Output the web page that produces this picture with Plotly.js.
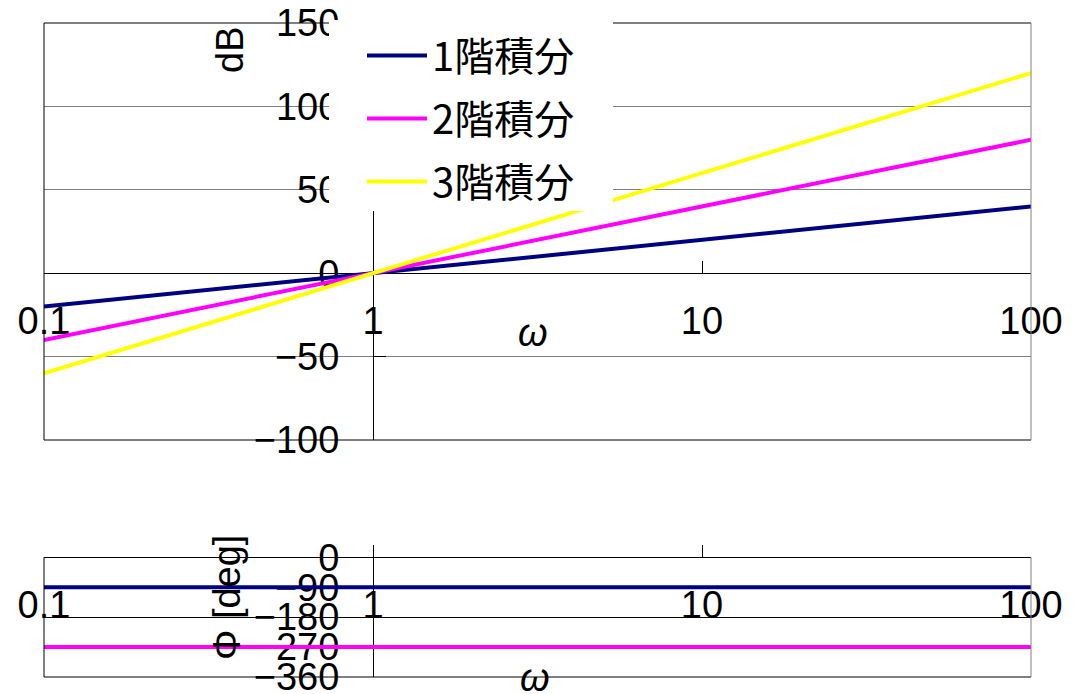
<!DOCTYPE html>
<html>
<head>
<meta charset="utf-8">
<script src="https://cdn.plot.ly/plotly-3.0.1.min.js"></script>
<style>
html, body { margin: 0; padding: 0; background: #fff; }
#chart { width: 1086px; height: 694px; }
</style>
</head>
<body>
<div id="chart"></div>
<script>
// Data
const omega = [0.1, 1, 10, 100];
const gain1 = [-20, 0, 20, 40];
const gain2 = [-40, 0, 40, 80];
const gain3 = [-60, 0, 60, 120];
const phase1 = [-90, -90, -90, -90];
const phase2 = [-270, -270, -270, -270];
const seriesNames = ['1階積分', '2階積分', '3階積分'];
const seriesColors = ['#000080', '#FF00FF', '#FFFF00'];
const xTickVals = [0.1, 1, 10, 100];
const xTickText = ['0.1', '1', '10', '100'];
const gainTicks = [-100, -50, 0, 50, 100, 150];
const phaseTicks = [0, -90, -180, -270, -360];

// Page geometry in pixels
const W = 1086, H = 694;
const L = 44, R = 1031, T = 23, B = 677;
const gainBottom = 440, phaseTop = 557.3;

function paperX(px) { return (px - L) / (R - L); }
function paperY(py) { return (B - py) / (B - T); }

const gainDomain = [paperY(gainBottom), 1];
const phaseDomain = [0, paperY(phaseTop)];
const gainRange = [-100, 150];
const phaseRange = [-360, 0];

// where the axes cross (omega = 1, value = 0)
const crossX = (Math.log10(1) + 1) / 3;
const gainZero = gainDomain[0] + (0 - gainRange[0]) / (gainRange[1] - gainRange[0]) * (gainDomain[1] - gainDomain[0]);
const phaseZero = phaseDomain[1];

const tickFont = { family: 'Liberation Sans, Arial, sans-serif', size: 38, color: '#000' };

const gains = [gain1, gain2, gain3];
const phases = [phase1, phase2];

const traces = [];
gains.forEach((g, i) => {
    traces.push({
        x: omega, y: g, xaxis: 'x', yaxis: 'y',
        type: 'scatter', mode: 'lines',
        name: seriesNames[i], legendgroup: 'g' + i,
        line: { color: seriesColors[i], width: 4 },
        hoverinfo: 'skip'
    });
});
phases.forEach((p, i) => {
    traces.push({
        x: omega, y: p, xaxis: 'x2', yaxis: 'y2',
        type: 'scatter', mode: 'lines',
        showlegend: false,
        line: { color: seriesColors[i], width: 4 },
        hoverinfo: 'skip'
    });
});

function xAxis(pos) {
    return {
        type: 'log', range: [-1, 2], domain: [0, 1],
        anchor: 'free', position: pos,
        showline: true, linecolor: '#000', linewidth: 1,
        ticks: 'inside', ticklen: 12, tickcolor: '#000', tickwidth: 1,
        tickvals: xTickVals, ticktext: xTickText,
        tickfont: tickFont, ticklabelstandoff: 14, ticklabeloverflow: 'allow',
        showgrid: false, zeroline: false, layer: 'below traces',
        automargin: false, fixedrange: true
    };
}

function yAxis(range, domain, ticks, gridColor) {
    return {
        range: range, domain: domain,
        anchor: 'free', position: crossX,
        showline: true, linecolor: '#000', linewidth: 1,
        ticks: 'inside', ticklen: 12, tickcolor: '#000', tickwidth: 1,
        tickvals: ticks, tickfont: tickFont, ticklabelstandoff: 26, ticklabeloverflow: 'allow',
        showgrid: true, gridcolor: gridColor, gridwidth: 1,
        zeroline: false, layer: 'below traces',
        automargin: false, fixedrange: true
    };
}

function hLine(y, x0, x1, color) {
    return { type: 'line', xref: 'paper', yref: 'paper',
        x0: paperX(x0), x1: paperX(x1), y0: paperY(y), y1: paperY(y),
        line: { color: color, width: 1 } };
}
function vLine(x, y0, y1, color) {
    return { type: 'line', xref: 'paper', yref: 'paper',
        x0: paperX(x), x1: paperX(x), y0: paperY(y0), y1: paperY(y1),
        line: { color: color, width: 1 } };
}

const shapes = [
    // gain plot frame
    hLine(T, L, R, '#000'),
    hLine(gainBottom, L, R, '#000'),
    vLine(L, T, gainBottom, '#000'),
    vLine(R, T, gainBottom, '#808080'),
    // phase plot frame
    hLine(B, L, R, '#000'),
    vLine(L, phaseTop, B, '#000'),
    vLine(R, phaseTop, B, '#808080'),
    // white legend background
    { type: 'rect', xref: 'paper', yref: 'paper',
      x0: paperX(329), x1: paperX(613), y0: paperY(211), y1: paperY(20),
      fillcolor: '#fff', line: { width: 0 } }
];

function label(text, px, py, angle, italic) {
    return {
        text: italic ? '<i>' + text + '</i>' : text,
        xref: 'paper', yref: 'paper',
        x: paperX(px), y: paperY(py),
        xanchor: 'center', yanchor: 'middle',
        textangle: angle, showarrow: false,
        font: { family: 'Liberation Sans, Arial, sans-serif', size: 38, color: '#000' }
    };
}

const layout = {
    width: W, height: H, autosize: false,
    margin: { l: L, r: W - R, t: T, b: H - B },
    paper_bgcolor: '#fff', plot_bgcolor: 'rgba(0,0,0,0)',
    showlegend: true,
    legend: {
        xref: 'paper', yref: 'paper',
        x: paperX(362), y: paperY(23), xanchor: 'left', yanchor: 'top',
        bgcolor: 'rgba(0,0,0,0)', borderwidth: 0,
        font: { family: 'Noto Sans CJK JP', size: 40, color: '#000' },
        itemwidth: 60, tracegroupgap: 8, traceorder: 'grouped'
    },
    xaxis: xAxis(gainZero),
    yaxis: yAxis(gainRange, gainDomain, gainTicks, '#808080'),
    xaxis2: xAxis(phaseZero),
    yaxis2: yAxis(phaseRange, phaseDomain, phaseTicks, '#000'),
    shapes: shapes,
    annotations: [
        label('dB', 230, 50, -90, false),
        label('Φ [deg]', 227, 598, -90, false),
        label('ω', 533, 333, 0, true),
        label('ω', 535, 678, 0, true)
    ]
};

Plotly.newPlot('chart', traces, layout, { displayModeBar: false, staticPlot: true });
</script>
</body>
</html>
